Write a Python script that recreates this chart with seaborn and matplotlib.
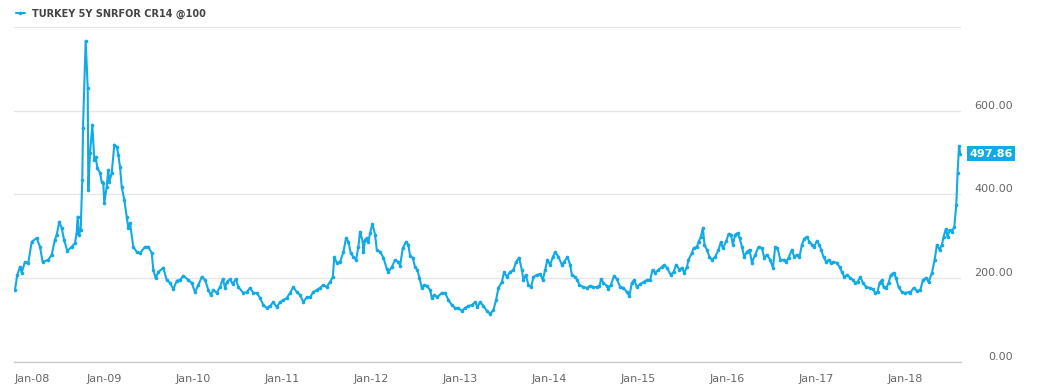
import numpy as np
import pandas as pd
import matplotlib
matplotlib.use("Agg")
import matplotlib.pyplot as plt
import matplotlib.dates as mdates
import seaborn as sns

series_name = "TURKEY 5Y SNRFOR CR14 @100"

# decimal-year time stamps and spread values (bp)
years = [
    2008.000, 2008.026, 2008.056, 2008.075, 2008.112, 2008.149, 2008.188, 2008.244,
    2008.281, 2008.311, 2008.374, 2008.412, 2008.449, 2008.469, 2008.498, 2008.525,
    2008.551, 2008.588, 2008.637, 2008.674, 2008.693, 2008.704, 2008.719, 2008.738,
    2008.756, 2008.764, 2008.794, 2008.817, 2008.824, 2008.843, 2008.869, 2008.891,
    2008.907, 2008.925, 2008.955, 2008.974, 2008.992,
    2009.003, 2009.030, 2009.048, 2009.060, 2009.087, 2009.116, 2009.143, 2009.161,
    2009.180, 2009.199, 2009.228, 2009.255, 2009.273, 2009.292, 2009.329, 2009.367,
    2009.404, 2009.461, 2009.498, 2009.536, 2009.554, 2009.581, 2009.610, 2009.666,
    2009.704, 2009.742, 2009.779, 2009.817, 2009.854, 2009.891, 2009.947, 2009.985,
    2010.022, 2010.060, 2010.098, 2010.135, 2010.172, 2010.199, 2010.228, 2010.266,
    2010.303, 2010.334, 2010.360, 2010.379, 2010.416, 2010.446, 2010.480, 2010.509,
    2010.565, 2010.603, 2010.640, 2010.678, 2010.716, 2010.753, 2010.790, 2010.828,
    2010.865, 2010.902, 2010.940, 2010.978,
    2011.015, 2011.053, 2011.090, 2011.127, 2011.165, 2011.202, 2011.239, 2011.278,
    2011.315, 2011.352, 2011.390, 2011.427, 2011.464, 2011.502, 2011.539, 2011.570,
    2011.587, 2011.615, 2011.652, 2011.689, 2011.719, 2011.745, 2011.772, 2011.801,
    2011.831, 2011.857, 2011.876, 2011.907, 2011.913, 2011.933, 2011.952, 2011.970,
    2011.989,
    2012.015, 2012.045, 2012.064, 2012.101, 2012.139, 2012.177, 2012.194, 2012.233,
    2012.270, 2012.307, 2012.326, 2012.356, 2012.393, 2012.419, 2012.438, 2012.468,
    2012.494, 2012.520, 2012.543, 2012.570, 2012.596, 2012.626, 2012.663, 2012.682,
    2012.708, 2012.745, 2012.794, 2012.831, 2012.869, 2012.907, 2012.944, 2012.981,
    2013.019, 2013.056, 2013.093, 2013.131, 2013.169, 2013.194, 2013.225, 2013.262,
    2013.300, 2013.337, 2013.374, 2013.404, 2013.430, 2013.469, 2013.494, 2013.525,
    2013.562, 2013.599, 2013.629, 2013.663, 2013.693, 2013.711, 2013.738, 2013.767,
    2013.798, 2013.824, 2013.862, 2013.899, 2013.929, 2013.955, 2013.981,
    2014.011, 2014.042, 2014.067, 2014.105, 2014.143, 2014.169, 2014.206, 2014.236,
    2014.255, 2014.292, 2014.318, 2014.340, 2014.385, 2014.423, 2014.461, 2014.498,
    2014.536, 2014.565, 2014.584, 2014.610, 2014.648, 2014.666, 2014.693, 2014.730,
    2014.761, 2014.798, 2014.835, 2014.873, 2014.902, 2014.929, 2014.955, 2014.985,
    2015.022, 2015.060, 2015.098, 2015.135, 2015.161, 2015.191, 2015.228, 2015.266,
    2015.292, 2015.322, 2015.367, 2015.397, 2015.427, 2015.464, 2015.491, 2015.517,
    2015.548, 2015.565, 2015.603, 2015.622, 2015.660, 2015.678, 2015.704, 2015.727,
    2015.745, 2015.772, 2015.801, 2015.828, 2015.865, 2015.902, 2015.929, 2015.951,
    2015.989,
    2016.015, 2016.042, 2016.064, 2016.090, 2016.116, 2016.139, 2016.166, 2016.191,
    2016.221, 2016.251, 2016.278, 2016.315, 2016.352, 2016.390, 2016.416, 2016.446,
    2016.483, 2016.514, 2016.539, 2016.565, 2016.596, 2016.633, 2016.663, 2016.689,
    2016.727, 2016.753, 2016.783, 2016.812, 2016.839, 2016.865, 2016.895, 2016.924,
    2016.951, 2016.976,
    2017.007, 2017.034, 2017.056, 2017.082, 2017.112, 2017.138, 2017.165, 2017.194,
    2017.232, 2017.262, 2017.289, 2017.315, 2017.345, 2017.382, 2017.412, 2017.438,
    2017.464, 2017.494, 2017.525, 2017.562, 2017.599, 2017.637, 2017.663, 2017.689,
    2017.711, 2017.738, 2017.757, 2017.787, 2017.812, 2017.839, 2017.869, 2017.896,
    2017.925, 2017.962,
    2018.000, 2018.037, 2018.056, 2018.093, 2018.131, 2018.169, 2018.199, 2018.236,
    2018.262, 2018.300, 2018.330, 2018.356, 2018.385, 2018.412, 2018.430, 2018.457,
    2018.475, 2018.498, 2018.525, 2018.551, 2018.573, 2018.588, 2018.604, 2018.618,
]

values = [
    172, 208, 227, 213, 239, 236, 287, 296,
    275, 239, 244, 256, 292, 304, 335, 320,
    292, 265, 275, 284, 308, 347, 304, 316,
    435, 559, 767, 655, 411, 500, 566, 483,
    490, 463, 452, 430, 428,
    380, 418, 459, 430, 452, 519, 514, 495,
    466, 418, 387, 347, 320, 332, 275, 263,
    260, 275, 275, 260, 220, 200, 215, 225,
    196, 189, 174, 194, 196, 206, 196, 189,
    167, 184, 203, 196, 172, 160, 172, 165,
    179, 198, 177, 191, 198, 186, 198, 179,
    165, 167, 177, 165, 165, 153, 136, 129,
    134, 143, 131, 143,
    148, 153, 165, 179, 167, 160, 143, 155,
    155, 167, 172, 177, 184, 179, 191, 203,
    251, 237, 239, 263, 296, 287, 260, 251,
    244, 275, 311, 287, 263, 292, 296, 287,
    308,
    330, 304, 268, 263, 249, 222, 215, 227,
    244, 239, 230, 272, 287, 280, 253, 249,
    227, 220, 201, 177, 184, 182, 172, 153,
    160, 155, 165, 165, 148, 136, 129, 129,
    122, 129, 134, 136, 143, 131, 143, 134,
    122, 115, 124, 148, 177, 191, 215, 203,
    215, 220, 239, 249, 220, 196, 208, 184,
    179, 203, 208, 210, 196, 220, 244,
    232, 251, 263, 251, 232, 239, 251, 232,
    208, 203, 196, 184, 179, 177, 182, 179,
    179, 182, 198, 189, 182, 174, 184, 206,
    198, 179, 177, 167, 158, 189, 196, 179,
    186, 191, 196, 196, 220, 213, 220, 227,
    232, 225, 208, 215, 232, 220, 225, 213,
    227, 244, 260, 272, 275, 287, 299, 320,
    280, 268, 251, 244, 251, 268, 286, 272,
    288,
    306, 304, 280, 304, 308, 296, 275, 251,
    263, 268, 237, 256, 275, 272, 249, 256,
    244, 225, 275, 272, 244, 244, 239, 249,
    268, 251, 256, 251, 280, 294, 299, 287,
    280, 275,
    289, 280, 268, 251, 239, 244, 237, 239,
    237, 227, 215, 203, 208, 201, 196, 189,
    191, 203, 189, 179, 177, 174, 165, 167,
    189, 196, 179, 177, 189, 208, 213, 201,
    179, 167,
    165, 167, 165, 177, 170, 172, 196, 201,
    191, 213, 244, 280, 268, 280, 299, 318,
    299, 315, 311, 323, 375, 452, 516, 497.86,
]

ytick_values = [0, 200, 400, 600]
ytick_labels = ["0.00", "200.00", "400.00", "600.00"]
xtick_dates = [f"{y}-01-01" for y in range(2008, 2019)]
xtick_labels = ["Jan-08", "Jan-09", "Jan-10", "Jan-11", "Jan-12", "Jan-13",
                "Jan-14", "Jan-15", "Jan-16", "Jan-17", "Jan-18"]

# ---------------------------------------------------------------------------
yrs = np.array(years)
dates = pd.Timestamp("2008-01-01") + pd.to_timedelta((yrs - 2008.0) * 365.25, unit="D")
df = pd.DataFrame({"date": dates, "value": values})

LINE = "#12aae6"
GRID = "#e6e6e6"
AXIS = "#cccccc"
TXT = "#666666"

sns.set_style("white")
plt.rcParams["font.family"] = ["DejaVu Sans"]

fig = plt.figure(figsize=(10.42, 3.87), dpi=100)
ax = fig.add_axes([14 / 1042, 25 / 387, (961 - 14) / 1042, (362 - 24.9) / 387])

sns.lineplot(data=df, x="date", y="value", ax=ax, color=LINE, linewidth=1.5,
             marker="o", markersize=2.6, markeredgewidth=0, label=series_name)

ax.set_ylim(0, 805)
ax.set_xlim(df["date"].iloc[0] - pd.Timedelta(days=4), df["date"].iloc[-1] + pd.Timedelta(days=3))

# y axis on the right, labels sitting above the grid lines
ax.yaxis.tick_right()
ax.set_yticks(ytick_values)
ax.set_yticklabels(ytick_labels)
ax.tick_params(axis="y", length=0, pad=37.5, labelsize=8, labelcolor=TXT)
for lbl in ax.get_yticklabels():
    lbl.set_horizontalalignment("right")
    lbl.set_verticalalignment("bottom")
ax.grid(axis="y", color=GRID, linewidth=1)
ax.axhline(800, color=GRID, linewidth=1, zorder=0)
ax.grid(axis="x", visible=False)

# x axis
ax.set_xticks(pd.to_datetime(xtick_dates))
ax.set_xticklabels(xtick_labels)
ax.tick_params(axis="x", length=8, width=1, color=AXIS, pad=0.5, labelsize=8, labelcolor=TXT)
first = ax.get_xticklabels()[0]
first.set_horizontalalignment("left")

for s in ["left", "top", "right"]:
    ax.spines[s].set_visible(False)
ax.spines["bottom"].set_color(AXIS)
ax.spines["bottom"].set_linewidth(1)
ax.set_xlabel("")
ax.set_ylabel("")

# last value tag
ax.annotate(f"{values[-1]:.2f}", xy=(1, values[-1]), xycoords=("axes fraction", "data"),
            xytext=(37.5, 0), textcoords="offset points", ha="right", va="center",
            fontsize=8, fontweight="bold", color="white",
            bbox=dict(boxstyle="square,pad=0.2", fc=LINE, ec="none"))

# legend at the top left
leg = ax.legend(loc="center left", bbox_to_anchor=(16 / 1042, (387 - 14) / 387),
                bbox_transform=fig.transFigure, frameon=False, borderaxespad=0,
                borderpad=0, handlelength=0.9, handletextpad=0.7,
                prop={"size": 7, "weight": "bold"}, labelcolor="#444444")

fig.savefig("out.png", dpi=100)
